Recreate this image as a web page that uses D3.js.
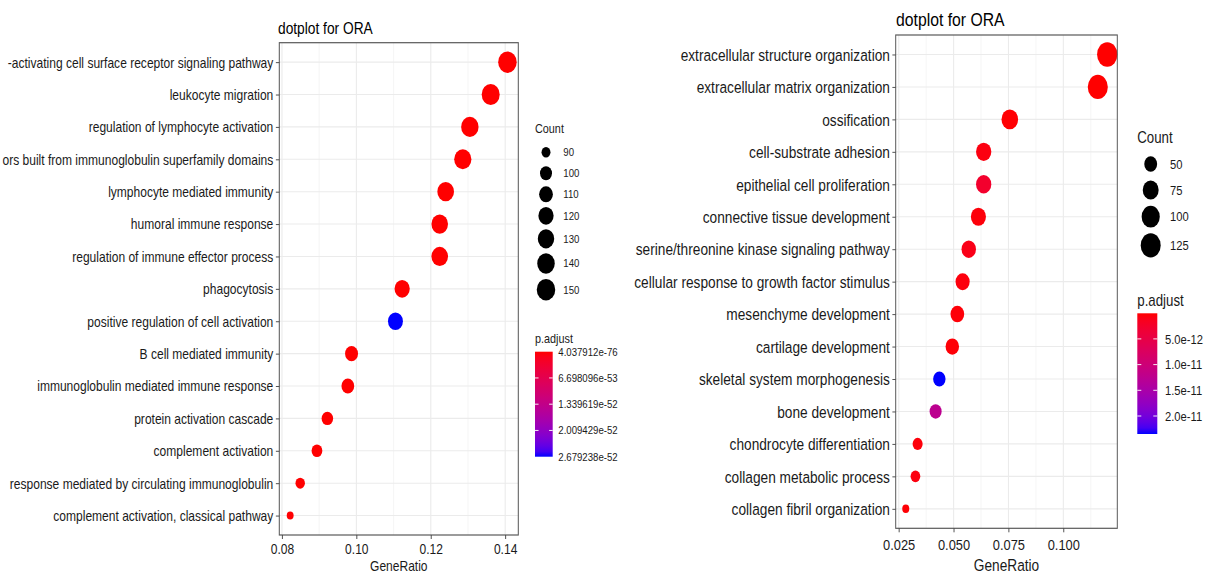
<!DOCTYPE html>
<html><head><meta charset="utf-8">
<script src="https://cdn.jsdelivr.net/npm/d3@7"></script>
<style>
body{margin:0;background:#fff;}
svg{display:block;font-family:"Liberation Sans",Arial,sans-serif;}
</style>
</head><body>
<svg id="chart" width="1207" height="573"></svg>
<script>
// ---------------- DATA ----------------
// (labels as visible in the reference, whose left edge crops the longest ones)
const leftTerms = [
  "-activating cell surface receptor signaling pathway",
  "leukocyte migration",
  "regulation of lymphocyte activation",
  "ors built from immunoglobulin superfamily domains",
  "lymphocyte mediated immunity",
  "humoral immune response",
  "regulation of immune effector process",
  "phagocytosis",
  "positive regulation of cell activation",
  "B cell mediated immunity",
  "immunoglobulin mediated immune response",
  "protein activation cascade",
  "complement activation",
  "response mediated by circulating immunoglobulin",
  "complement activation, classical pathway"
];
const leftRatio = [0.1406, 0.1361, 0.1305, 0.1286, 0.1240, 0.1224, 0.1224, 0.1123, 0.1105, 0.0987, 0.0977, 0.0922, 0.0894, 0.0849, 0.0822];
const leftCount = [150, 145, 139, 137, 132, 131, 131, 120, 118, 105, 104, 98, 95, 91, 88];
const leftPadj = [4.037912e-76, 1.2e-70, 3.5e-66, 8.1e-62, 2.3e-63, 5.6e-60, 1.4e-57, 7.7e-56, 2.679238e-52, 4.4e-58, 9.2e-57, 1.8e-56, 3.1e-55, 6.4e-55, 1.1e-54];
const leftXTicks = [0.08, 0.10, 0.12, 0.14];
const leftSizeBreaks = [90, 100, 110, 120, 130, 140, 150];
const leftColorTickValues = [4.037912e-76, 6.698096e-53, 1.339619e-52, 2.009429e-52, 2.679238e-52];
const leftColorTickLabels = ["4.037912e-76", "6.698096e-53", "1.339619e-52", "2.009429e-52", "2.679238e-52"];

const rightTerms = [
  "extracellular structure organization",
  "extracellular matrix organization",
  "ossification",
  "cell-substrate adhesion",
  "epithelial cell proliferation",
  "connective tissue development",
  "serine/threonine kinase signaling pathway",
  "cellular response to growth factor stimulus",
  "mesenchyme development",
  "cartilage development",
  "skeletal system morphogenesis",
  "bone development",
  "chondrocyte differentiation",
  "collagen metabolic process",
  "collagen fibril organization"
];
const rightRatio = [0.1200, 0.1157, 0.0756, 0.0637, 0.0637, 0.0613, 0.0569, 0.0541, 0.0517, 0.0494, 0.0435, 0.0418, 0.0336, 0.0326, 0.0282];
const rightCount = [130, 126, 82, 69, 69, 67, 62, 59, 56, 54, 47, 45, 36, 35, 31];
const rightPadj = [2.1e-14, 3.0e-14, 1.2e-13, 6.5e-13, 2.6e-12, 4.1e-13, 1.1e-12, 5.2e-13, 3.4e-13, 2.8e-13, 2.35e-11, 1.25e-11, 3.9e-13, 6.0e-13, 2.2e-13];
const rightXTicks = [0.025, 0.050, 0.075, 0.100];
const rightSizeBreaks = [50, 75, 100, 125];
const rightColorTickValues = [5e-12, 1e-11, 1.5e-11, 2e-11];
const rightColorTickLabels = ["5.0e-12", "1.0e-11", "1.5e-11", "2.0e-11"];

const titleText = "dotplot for ORA";

// ---------------- DRAW ----------------
const svg = d3.select("#chart");
const defs = svg.append("defs");

function drawPanel(terms, ratio, count, padj, xTicks, xFmt, sizeBreaks, cTickVals, cTickLabels, cfg) {
  const sx = cfg.sx;
  const X = v => v / sx;           // screen x -> logical x
  const g = svg.append("g").attr("transform", `scale(${sx},1)`);
  const P = cfg.panel;

  // scales
  const [lo, hi] = d3.extent(ratio);
  const pad = (hi - lo) * 0.05;
  const x = d3.scaleLinear().domain([lo - pad, hi + pad]).range([X(P.x0), X(P.x1)]);
  const y = d3.scalePoint().domain(terms).range([P.y0, P.y1]).padding(0.6);
  const [cmin, cmax] = d3.extent(count);
  const norm = d3.scaleLinear().domain([cmin, cmax]).range([0, 1]);
  const diam = d3.scaleLinear().domain([0, 1]).range(cfg.dRange);
  const size = c => diam(Math.sqrt(Math.max(0, norm(c))));
  const [pmin, pmax] = d3.extent(padj);
  const color = d3.scaleLinear().domain([pmin, pmax]).range(["red", "blue"]).interpolate(d3.interpolateLab);

  // panel background + grid
  g.append("rect").attr("x", X(P.x0)).attr("y", P.y0).attr("width", X(P.x1) - X(P.x0)).attr("height", P.y1 - P.y0).attr("fill", "#fff");
  const step = xTicks[1] - xTicks[0];
  const minors = [];
  [xTicks[0] - step].concat(xTicks).forEach(t => {
    const m = t + step / 2;
    if (m > x.domain()[0] && m < x.domain()[1]) minors.push(m);
  });
  g.append("g").selectAll("line").data(minors).join("line")
    .attr("x1", d => x(d)).attr("x2", d => x(d)).attr("y1", P.y0).attr("y2", P.y1)
    .attr("stroke", "#f2f2f2").attr("stroke-width", 0.8);
  g.append("g").selectAll("line").data(xTicks).join("line")
    .attr("x1", d => x(d)).attr("x2", d => x(d)).attr("y1", P.y0).attr("y2", P.y1)
    .attr("stroke", "#ebebeb").attr("stroke-width", 1.3);
  g.append("g").selectAll("line").data(terms).join("line")
    .attr("x1", X(P.x0)).attr("x2", X(P.x1)).attr("y1", d => y(d)).attr("y2", d => y(d))
    .attr("stroke", "#ebebeb").attr("stroke-width", 1.1);

  // dots
  g.append("g").selectAll("circle").data(terms).join("circle")
    .attr("cx", (d, i) => x(ratio[i])).attr("cy", d => y(d))
    .attr("r", (d, i) => size(count[i]) / 2)
    .attr("fill", (d, i) => color(padj[i]));

  // border
  g.append("rect").attr("x", X(P.x0)).attr("y", P.y0).attr("width", X(P.x1) - X(P.x0)).attr("height", P.y1 - P.y0)
    .attr("fill", "none").attr("stroke", "#595959").attr("stroke-width", 1.2);

  // axes
  const ax = g.append("g").attr("transform", `translate(0,${P.y1})`)
    .call(d3.axisBottom(x).tickValues(xTicks).tickFormat(xFmt).tickSize(4).tickSizeOuter(0));
  ax.select(".domain").remove();
  ax.selectAll("line").attr("stroke", "#444");
  ax.selectAll("text").attr("y", cfg.xTickBaseline - P.y1).attr("dy", null)
    .attr("font-size", cfg.fsXTick).attr("fill", "#1a1a1a");
  ax.attr("font-family", null);

  const ay = g.append("g").attr("transform", `translate(${X(P.x0)},0)`)
    .call(d3.axisLeft(y).tickSize(4).tickPadding(cfg.yPad).tickSizeOuter(0));
  ay.select(".domain").remove();
  ay.selectAll("line").attr("stroke", "#444");
  ay.selectAll("text").attr("font-size", cfg.fsY).attr("fill", "#1a1a1a").attr("dy", "0.35em");
  ay.attr("font-family", null);

  // axis title + plot title
  g.append("text").attr("x", (X(P.x0) + X(P.x1)) / 2).attr("y", cfg.xTitleBaseline)
    .attr("text-anchor", "middle").attr("font-size", cfg.fsXTitle).attr("fill", "#1a1a1a").text("GeneRatio");
  g.append("text").attr("x", X(cfg.titleX)).attr("y", cfg.titleBaseline)
    .attr("font-size", cfg.fsTitle).attr("fill", "#000").text(titleText);

  // size legend
  const L = cfg.legend;
  g.append("text").attr("x", X(L.x)).attr("y", L.countTitleBaseline).attr("font-size", L.fsTitle).attr("fill", "#1a1a1a").text("Count");
  let prevH = null, cy = L.firstKeyY;
  const keyYs = [];
  sizeBreaks.forEach((b, i) => {
    const h = Math.max(L.minKey, size(b) * 1.25);
    if (i > 0) cy += (prevH + h) / 2;
    keyYs.push(cy);
    prevH = h;
  });
  const lg = g.append("g");
  lg.selectAll("circle").data(sizeBreaks).join("circle")
    .attr("cx", X(L.keyX)).attr("cy", (d, i) => keyYs[i]).attr("r", d => size(d) / 2).attr("fill", "#000");
  lg.selectAll("text").data(sizeBreaks).join("text")
    .attr("x", X(L.labelX)).attr("y", (d, i) => keyYs[i]).attr("dy", "0.35em")
    .attr("font-size", L.fsLabel).attr("fill", "#1a1a1a").text(d => d);

  // color legend
  const C = cfg.cbar;
  g.append("text").attr("x", X(C.x0)).attr("y", C.titleBaseline).attr("font-size", L.fsTitle).attr("fill", "#1a1a1a").text("p.adjust");
  const gid = "grad" + cfg.id;
  const grad = defs.append("linearGradient").attr("id", gid).attr("x1", 0).attr("x2", 0).attr("y1", 0).attr("y2", 1);
  d3.range(0, 1.0001, 0.05).forEach(t => {
    grad.append("stop").attr("offset", t).attr("stop-color", color(pmin + t * (pmax - pmin)));
  });
  g.append("rect").attr("x", X(C.x0)).attr("y", C.y0).attr("width", X(C.x1) - X(C.x0)).attr("height", C.y1 - C.y0)
    .attr("fill", `url(#${gid})`);
  const cy2 = d3.scaleLinear().domain([pmin, pmax]).range([C.y0, C.y1]);
  const tw = (X(C.x1) - X(C.x0)) / 5;
  const cg = g.append("g");
  cTickVals.forEach((v, i) => {
    const yy = cy2(v);
    if (yy > C.y0 + 1 && yy < C.y1 - 1) {
      cg.append("line").attr("x1", X(C.x0)).attr("x2", X(C.x0) + tw).attr("y1", yy).attr("y2", yy).attr("stroke", "#fff").attr("stroke-width", 1);
      cg.append("line").attr("x1", X(C.x1) - tw).attr("x2", X(C.x1)).attr("y1", yy).attr("y2", yy).attr("stroke", "#fff").attr("stroke-width", 1);
    }
    cg.append("text").attr("x", X(C.labelX)).attr("y", yy).attr("dy", "0.35em")
      .attr("font-size", L.fsLabel).attr("fill", "#1a1a1a").text(cTickLabels[i]);
  });
}

drawPanel(leftTerms, leftRatio, leftCount, leftPadj, leftXTicks, d3.format(".2f"), leftSizeBreaks,
  leftColorTickValues, leftColorTickLabels, {
    id: "L", sx: 0.86,
    panel: {x0: 279.3, x1: 518.3, y0: 42.7, y1: 535},
    dRange: [8, 21.5],
    fsY: 14, yPad: 3, fsXTick: 14, fsXTitle: 14, fsTitle: 16,
    xTickBaseline: 554, xTitleBaseline: 571,
    titleX: 278, titleBaseline: 34,
    legend: {x: 535, countTitleBaseline: 133, keyX: 546, labelX: 563.3, firstKeyY: 152.3, minKey: 21, fsTitle: 12.6, fsLabel: 11.2},
    cbar: {x0: 535, x1: 552.7, y0: 351.7, y1: 456.7, titleBaseline: 343, labelX: 558.3}
  });

drawPanel(rightTerms, rightRatio, rightCount, rightPadj, rightXTicks, d3.format(".3f"), rightSizeBreaks,
  rightColorTickValues, rightColorTickLabels, {
    id: "R", sx: 0.83,
    panel: {x0: 895.7, x1: 1117.3, y0: 35, y1: 528.3},
    dRange: [8.5, 24.5],
    fsY: 16.5, yPad: 3, fsXTick: 15.5, fsXTitle: 16.5, fsTitle: 19,
    xTickBaseline: 550, xTitleBaseline: 571,
    titleX: 896, titleBaseline: 26,
    legend: {x: 1137.3, countTitleBaseline: 143, keyX: 1150.7, labelX: 1170, firstKeyY: 164, minKey: 26, fsTitle: 16, fsLabel: 13.5},
    cbar: {x0: 1137.3, x1: 1157.3, y0: 313.3, y1: 434, titleBaseline: 306, labelX: 1165}
  });
</script>
</body></html>
